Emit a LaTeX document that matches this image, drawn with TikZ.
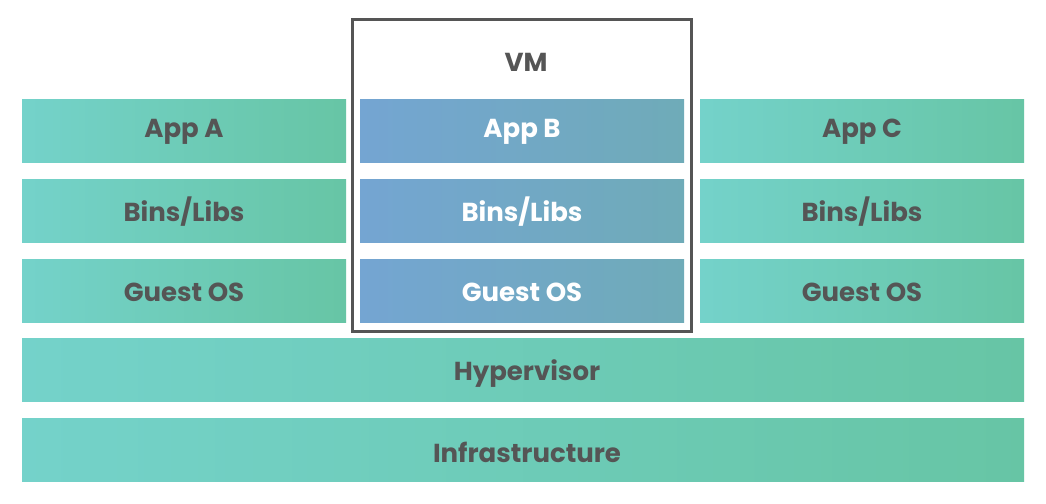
\documentclass[tikz,border=0pt]{standalone}
\usepackage{fontspec}
\setmainfont{Poppins}
\definecolor{tealL}{HTML}{74D2CA}
\definecolor{tealR}{HTML}{67C5A5}
\definecolor{blueL}{HTML}{74A5D2}
\definecolor{blueR}{HTML}{6FABB8}
\definecolor{txt}{HTML}{555555}
\definecolor{frame}{HTML}{555555}
\begin{document}
\begin{tikzpicture}[x=1pt,y=-1pt,
  layer/.style={draw=none,left color=tealL,right color=tealR},
  vmlayer/.style={draw=none,left color=blueL,right color=blueR},
  lbl/.style={text=txt,font=\fontsize{26}{28}\selectfont\bfseries,inner sep=0pt},
  wl/.style={lbl,text=white}]
\useasboundingbox[fill=white] (0,0) rectangle (1046,503);
\foreach \x/\X/\s in {22/346/layer,360/684/vmlayer,700/1024/layer}{
  \path[\s] (\x,99) rectangle (\X,162);
  \path[\s] (\x,179) rectangle (\X,242);
  \path[\s] (\x,259) rectangle (\X,322);
}
\path[layer] (22,338) rectangle (1024,401);
\path[layer] (22,418) rectangle (1024,481);
\draw[frame,line width=3pt] (352,20) rectangle (691,331);
\node[lbl] (vm) at (526,62) {VM};
\node[lbl] (aA) at (184,132) {App A};
\node[lbl] (bA) at (184,212) {Bins/Libs};
\node[lbl] (gA) at (184,292) {Guest OS};
\node[wl] (aB) at (522,132) {App B};
\node[wl] (bB) at (522,212) {Bins/Libs};
\node[wl] (gB) at (522,292) {Guest OS};
\node[lbl] (aC) at (862,132) {App C};
\node[lbl] (bC) at (862,212) {Bins/Libs};
\node[lbl] (gC) at (862,292) {Guest OS};
\node[lbl] (hv) at (527,374) {Hypervisor};
\node[lbl] (inf) at (527,452) {Infrastructure};
\end{tikzpicture}
\end{document}
